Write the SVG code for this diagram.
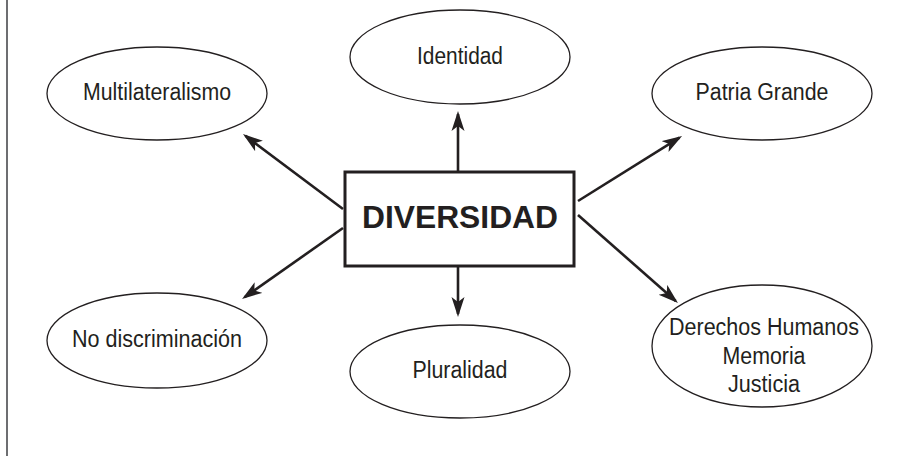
<svg xmlns="http://www.w3.org/2000/svg" width="907" height="460" viewBox="0 0 907 460">
<style>
.bg{fill:#ffffff}
.ell{fill:#ffffff;stroke:#231f20;stroke-width:1.3}
.lbl{font-family:"Liberation Sans",Arial,sans-serif;font-size:23.5px;fill:#231f20;text-anchor:middle}
.main{font-family:"Liberation Sans",Arial,sans-serif;font-size:32px;font-weight:bold;fill:#231f20;text-anchor:middle}
.box{fill:#ffffff;stroke:#231f20;stroke-width:3}
.con{stroke:#231f20;stroke-width:2.6;fill:none;marker-end:url(#arr)}
</style>
<defs>
<marker id="arr" markerUnits="userSpaceOnUse" markerWidth="22" markerHeight="16" viewBox="0 0 22 16" refX="17" refY="7" orient="auto">
<path d="M0,0.5 L20,7 L0,13.5 L5,7 Z" fill="#231f20"/>
</marker>
</defs>
<rect class="bg" x="0" y="0" width="907" height="460"/>
<line x1="7" y1="0" x2="7" y2="456" stroke="#6d6e71" stroke-width="2"/>
<g id="connectors">
<line class="con" x1="458" y1="172" x2="458" y2="114"/>
<line class="con" x1="458" y1="266" x2="458" y2="314"/>
<line class="con" x1="343" y1="209" x2="245.4" y2="135.8"/>
<line class="con" x1="578" y1="201" x2="679.5" y2="137.6"/>
<line class="con" x1="343" y1="228" x2="244.5" y2="297.3"/>
<line class="con" x1="578" y1="215" x2="675.7" y2="301"/>
</g>
<g id="diversidad">
<rect class="box" x="345" y="172" width="229" height="94"/>
<text class="main" x="460" y="228" textLength="196" lengthAdjust="spacingAndGlyphs">DIVERSIDAD</text>
</g>
<g id="identidad">
<ellipse class="ell" cx="460" cy="57" rx="110" ry="47"/>
<text class="lbl" x="460" y="64" textLength="86" lengthAdjust="spacingAndGlyphs">Identidad</text>
</g>
<g id="multilateralismo">
<ellipse class="ell" cx="157" cy="93.5" rx="110" ry="46.5"/>
<text class="lbl" x="157" y="100" textLength="148" lengthAdjust="spacingAndGlyphs">Multilateralismo</text>
</g>
<g id="patria-grande">
<ellipse class="ell" cx="762" cy="93.5" rx="110" ry="46.5"/>
<text class="lbl" x="762" y="100" textLength="133" lengthAdjust="spacingAndGlyphs">Patria Grande</text>
</g>
<g id="no-discriminacion">
<ellipse class="ell" cx="157" cy="340.5" rx="110" ry="47.5"/>
<text class="lbl" x="157" y="347" textLength="170" lengthAdjust="spacingAndGlyphs">No discriminación</text>
</g>
<g id="pluralidad">
<ellipse class="ell" cx="460" cy="371.5" rx="110" ry="46.5"/>
<text class="lbl" x="460" y="378" textLength="95" lengthAdjust="spacingAndGlyphs">Pluralidad</text>
</g>
<g id="derechos-humanos">
<ellipse class="ell" cx="762" cy="346" rx="110" ry="61"/>
<text class="lbl" x="764" y="335" textLength="190" lengthAdjust="spacingAndGlyphs">Derechos Humanos</text>
<text class="lbl" x="764" y="364" textLength="83" lengthAdjust="spacingAndGlyphs">Memoria</text>
<text class="lbl" x="764" y="392" textLength="72" lengthAdjust="spacingAndGlyphs">Justicia</text>
</g>
</svg>
